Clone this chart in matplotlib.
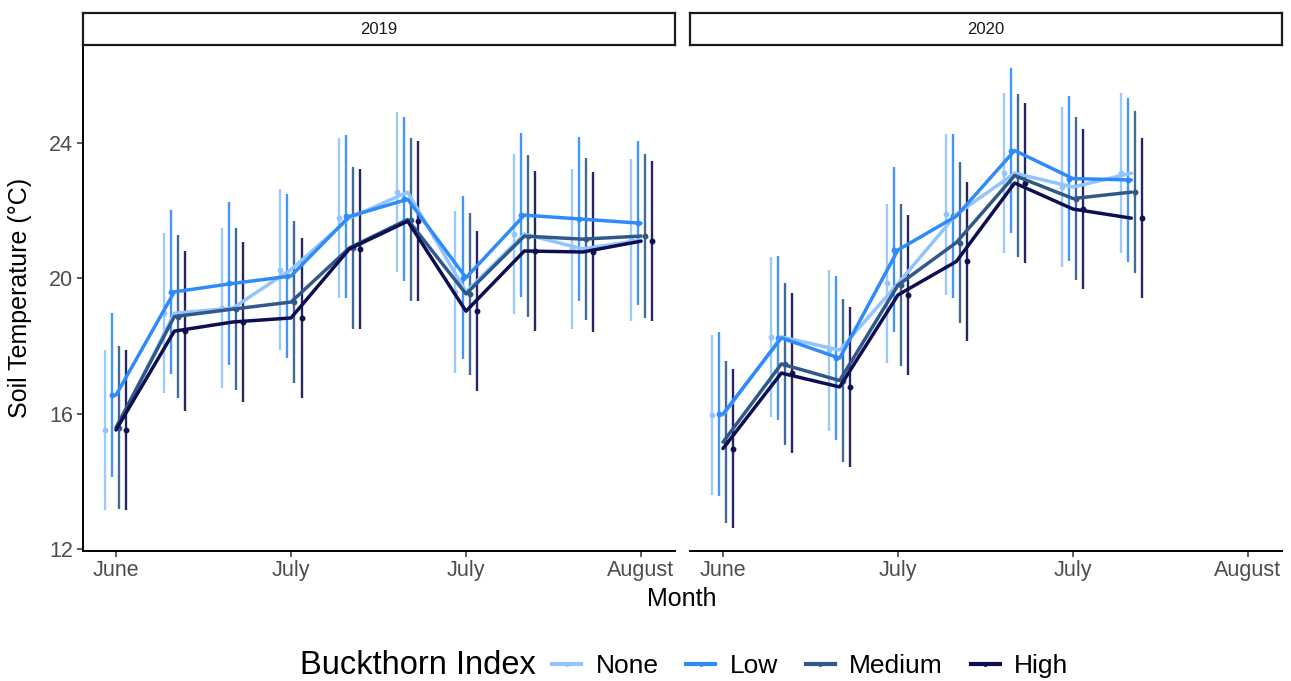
import matplotlib
matplotlib.use("Agg")
import numpy as np
import pandas as pd
import matplotlib.pyplot as plt
import matplotlib.dates as mdates
from matplotlib.lines import Line2D

plt.rcParams['font.family'] = ['Liberation Sans', 'DejaVu Sans']

# ---------------- data ----------------
groups = ["None", "Low", "Medium", "High"]
colors = ["#92C5FE", "#2F8BFB", "#30598A", "#0E0E52"]

dates_2019 = ["2019-06-10", "2019-06-17", "2019-06-24", "2019-07-01", "2019-07-08",
              "2019-07-15", "2019-07-22", "2019-07-29", "2019-08-05", "2019-08-12"]
dates_2020 = ["2020-06-10", "2020-06-17", "2020-06-24", "2020-07-01", "2020-07-08",
              "2020-07-15", "2020-07-22", "2020-07-29"]

mean_2019_none   = [15.52, 18.97, 19.12, 20.26, 21.78, 22.55, 19.60, 21.31, 20.87, 21.13]
mean_2019_low    = [16.55, 19.60, 19.85, 20.07, 21.83, 22.34, 20.02, 21.87, 21.75, 21.63]
mean_2019_medium = [15.59, 18.87, 19.09, 19.30, 20.90, 21.74, 19.54, 21.25, 21.16, 21.25]
mean_2019_high   = [15.52, 18.44, 18.71, 18.83, 20.87, 21.69, 19.03, 20.81, 20.78, 21.10]

sd_2019_none   = [2.36, 2.36, 2.36, 2.38, 2.36, 2.36, 2.39, 2.36, 2.36, 2.39]
sd_2019_low    = [2.42, 2.42, 2.41, 2.42, 2.41, 2.42, 2.41, 2.42, 2.42, 2.42]
sd_2019_medium = [2.41, 2.41, 2.39, 2.39, 2.39, 2.41, 2.39, 2.39, 2.39, 2.42]
sd_2019_high   = [2.36, 2.36, 2.36, 2.36, 2.36, 2.36, 2.36, 2.36, 2.36, 2.36]

mean_2020_none   = [15.96, 18.27, 17.88, 19.85, 21.89, 23.11, 22.70, 23.11]
mean_2020_low    = [15.99, 18.24, 17.64, 20.84, 21.84, 23.78, 22.95, 22.91]
mean_2020_medium = [15.16, 17.47, 16.98, 19.80, 21.06, 23.04, 22.36, 22.55]
mean_2020_high   = [14.97, 17.20, 16.79, 19.51, 20.50, 22.82, 22.05, 21.78]

sd_2020_none   = [2.36, 2.36, 2.38, 2.35, 2.38, 2.36, 2.36, 2.36]
sd_2020_low    = [2.42, 2.42, 2.42, 2.44, 2.42, 2.44, 2.44, 2.42]
sd_2020_medium = [2.39, 2.39, 2.41, 2.39, 2.38, 2.41, 2.41, 2.39]
sd_2020_high   = [2.35, 2.36, 2.36, 2.36, 2.35, 2.36, 2.36, 2.36]

x_tick_dates = ["2000-06-10", "2000-07-01", "2000-07-22", "2000-08-12"]
y_ticks = [12, 16, 20, 24]

panels = [
    ("2019", dates_2019,
     [mean_2019_none, mean_2019_low, mean_2019_medium, mean_2019_high],
     [sd_2019_none, sd_2019_low, sd_2019_medium, sd_2019_high]),
    ("2020", dates_2020,
     [mean_2020_none, mean_2020_low, mean_2020_medium, mean_2020_high],
     [sd_2020_none, sd_2020_low, sd_2020_medium, sd_2020_high]),
]

# ---------------- figure ----------------
W, H = 1291, 681
fig = plt.figure(figsize=(W / 100, H / 100), dpi=100)

dodge = [-1.26, -0.42, 0.42, 1.26]  # days
tick_nums = [mdates.date2num(pd.Timestamp(d)) for d in x_tick_dates]
x0 = tick_nums[0]
xlim = (x0 - 3.96, x0 + 67.08)

panel_lefts = [83, 690]
pw = 592
top_px, bot_px = 46, 550.5

axes = []
for i, (label, dates, means, sds) in enumerate(panels):
    left = panel_lefts[i]
    ax = fig.add_axes([left / W, 1 - bot_px / H, pw / W, (bot_px - top_px) / H])
    axes.append(ax)
    xc = np.array([mdates.date2num(pd.Timestamp(d).replace(year=2000)) for d in dates])
    for g in range(len(groups)):
        m = np.array(means[g])
        s = np.array(sds[g])
        xd = xc + dodge[g]
        ax.vlines(xd, m - s, m + s, color=colors[g], lw=1.7, alpha=0.9, zorder=2)
        ax.plot(xd, m, 'o', color=colors[g], ms=3.2, zorder=3)
    for g in range(len(groups)):
        ax.plot(xc, means[g], '-', color=colors[g], lw=2.5, zorder=4,
                solid_joinstyle='round', solid_capstyle='round')

    ax.set_xlim(*xlim)
    ax.set_ylim(11.955, 26.87)
    ax.set_xticks(tick_nums)
    ax.xaxis.set_major_formatter(mdates.DateFormatter("%B"))
    ax.set_yticks(y_ticks)
    for sp in ["top", "right"]:
        ax.spines[sp].set_visible(False)
    ax.spines["bottom"].set_linewidth(1.4)
    ax.spines["bottom"].set_color("black")
    ax.spines["left"].set_linewidth(1.4)
    ax.spines["left"].set_color("black")
    ax.tick_params(axis='both', length=4, width=1.1, color="#333333",
                   labelsize=15.5, labelcolor="#4D4D4D", pad=3)
    if i == 1:
        ax.spines["left"].set_visible(False)
        ax.tick_params(axis='y', left=False, labelleft=False)

    # strip
    sax = fig.add_axes([left / W, 1 - 45 / H, pw / W, 32 / H])
    sax.set_xticks([]); sax.set_yticks([])
    for sp in sax.spines.values():
        sp.set_linewidth(1.6)
        sp.set_color("#1A1A1A")
    sax.text(0.5, 0.5, label, ha='center', va='center', fontsize=12,
             color="#1A1A1A", transform=sax.transAxes)

fig.text(682 / W, 1 - 599 / H, "Month", ha='center', va='center', fontsize=18, color='black')
fig.text(20 / W, 1 - 298 / H, "Soil Temperature (°C)", ha='center', va='center',
         rotation=90, fontsize=18, color='black')

# legend
fig.text(300 / W, 1 - 666 / H, "Buckthorn Index", ha='left', va='center', fontsize=23.5)
handles = [Line2D([0], [0], color=c, lw=3, marker='o', ms=2.5) for c in colors]
fig.legend(handles, groups, loc='center left', bbox_to_anchor=(552 / W, 1 - 666 / H),
           ncol=4, frameon=False, fontsize=19, handlelength=1.1, handletextpad=0.55,
           columnspacing=1.05, borderaxespad=0, borderpad=0)

fig.savefig("out.png", dpi=100)
